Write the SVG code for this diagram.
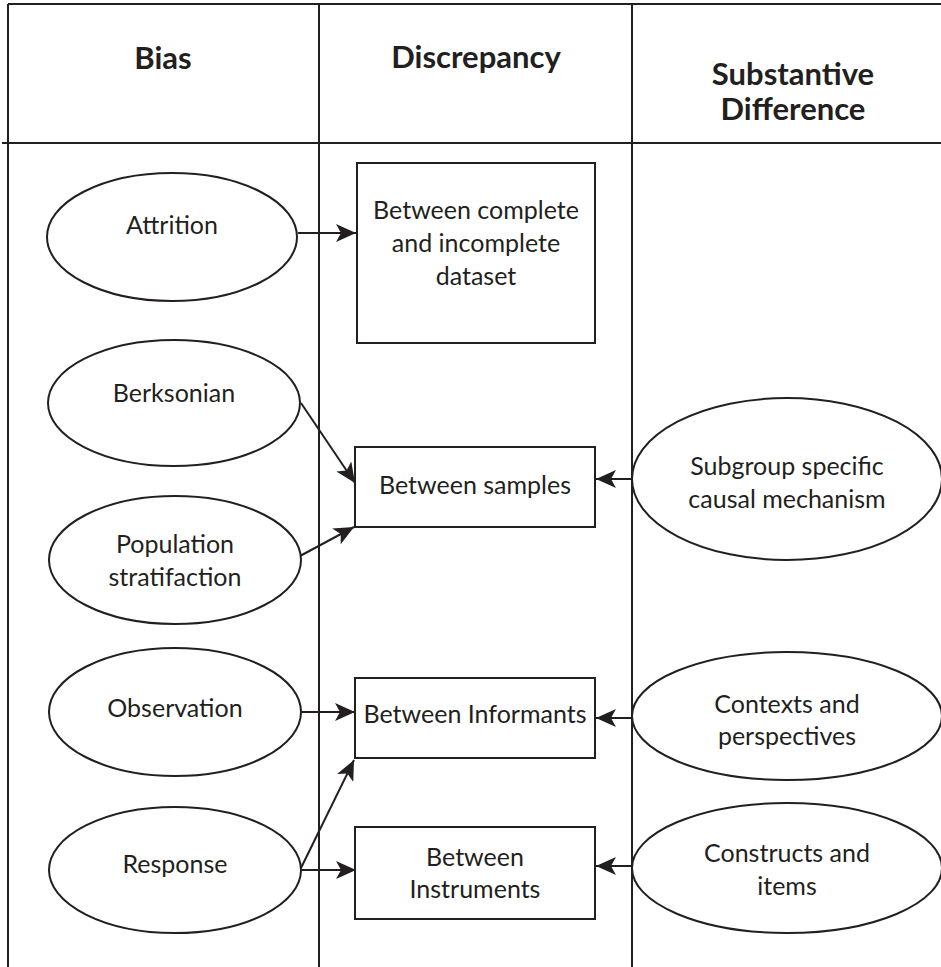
<svg xmlns="http://www.w3.org/2000/svg" width="941" height="967" viewBox="0 0 941 967">
  <style>
    .grid { stroke: #231f20; stroke-width: 2; fill: none; }
    .shape { stroke: #231f20; stroke-width: 2; fill: #ffffff; }
    .edge { stroke: #231f20; stroke-width: 2; fill: none; marker-end: url(#arrow); }
    .head { font-family: Lato, "Liberation Sans", sans-serif; font-weight: bold; font-size: 31px; fill: #231f20; text-anchor: middle; }
    .label { font-family: Lato, "Liberation Sans", sans-serif; font-size: 25px; fill: #231f20; text-anchor: middle; }
  </style>
  <defs>
    <marker id="arrow" markerUnits="userSpaceOnUse" markerWidth="22" markerHeight="18" refX="20" refY="9" orient="auto">
      <path d="M0,0 L20,9 L0,18 L5,9 Z" fill="#231f20"/>
    </marker>
  </defs>

  <rect width="941" height="967" fill="#ffffff"/>

  <!-- table grid -->
  <g id="table">
    <line class="grid" x1="8" y1="4" x2="941" y2="4"/>
    <line class="grid" x1="2" y1="143" x2="941" y2="143"/>
    <line class="grid" x1="8" y1="4" x2="8" y2="967"/>
    <line class="grid" x1="319" y1="4" x2="319" y2="967"/>
    <line class="grid" x1="632" y1="4" x2="632" y2="967"/>
  </g>

  <!-- column headings -->
  <g id="headings">
    <text class="head" x="163" y="69">Bias</text>
    <text class="head" x="476" y="68">Discrepancy</text>
    <text class="head" x="793" y="85">Substantive</text>
    <text class="head" x="793" y="120">Difference</text>
  </g>

  <!-- connectors -->
  <g id="connectors">
    <line class="edge" x1="298" y1="233" x2="356" y2="233"/>
    <line class="edge" x1="301" y1="403" x2="355" y2="483"/>
    <line class="edge" x1="300" y1="556" x2="354" y2="527"/>
    <line class="edge" x1="300" y1="712" x2="355" y2="712"/>
    <line class="edge" x1="300" y1="870" x2="354" y2="760"/>
    <line class="edge" x1="300" y1="870" x2="356" y2="870"/>
    <line class="edge" x1="632" y1="479" x2="596" y2="479"/>
    <line class="edge" x1="632" y1="718" x2="596" y2="718"/>
    <line class="edge" x1="632" y1="866" x2="596" y2="866"/>
  </g>

  <!-- bias column -->
  <g id="attrition">
    <ellipse class="shape" cx="172" cy="237" rx="125" ry="64"/>
    <text class="label" x="172" y="234">Attrition</text>
  </g>
  <g id="berksonian">
    <ellipse class="shape" cx="174" cy="403" rx="126" ry="63"/>
    <text class="label" x="174" y="402">Berksonian</text>
  </g>
  <g id="population">
    <ellipse class="shape" cx="175" cy="560" rx="126" ry="64"/>
    <text class="label" x="175" y="553">Population</text>
    <text class="label" x="175" y="586">stratifaction</text>
  </g>
  <g id="observation">
    <ellipse class="shape" cx="175" cy="712" rx="126" ry="64"/>
    <text class="label" x="175" y="717">Observation</text>
  </g>
  <g id="response">
    <ellipse class="shape" cx="175" cy="870" rx="126" ry="63"/>
    <text class="label" x="175" y="873">Response</text>
  </g>

  <!-- discrepancy column -->
  <g id="datasets">
    <rect class="shape" x="357" y="163" width="238" height="180"/>
    <text class="label" x="476" y="219">Between complete</text>
    <text class="label" x="476" y="252">and incomplete</text>
    <text class="label" x="476" y="285">dataset</text>
  </g>
  <g id="samples">
    <rect class="shape" x="355" y="447" width="240" height="80"/>
    <text class="label" x="475" y="494">Between samples</text>
  </g>
  <g id="informants">
    <rect class="shape" x="355" y="678" width="240" height="80"/>
    <text class="label" x="475" y="723">Between Informants</text>
  </g>
  <g id="instruments">
    <rect class="shape" x="355" y="827" width="240" height="92"/>
    <text class="label" x="475" y="866">Between</text>
    <text class="label" x="475" y="898">Instruments</text>
  </g>

  <!-- substantive difference column -->
  <g id="subgroup">
    <ellipse class="shape" cx="787" cy="479" rx="155" ry="81"/>
    <text class="label" x="787" y="475">Subgroup specific</text>
    <text class="label" x="787" y="508">causal mechanism</text>
  </g>
  <g id="contexts">
    <ellipse class="shape" cx="787" cy="716" rx="155" ry="64"/>
    <text class="label" x="787" y="713">Contexts and</text>
    <text class="label" x="787" y="745">perspectives</text>
  </g>
  <g id="constructs">
    <ellipse class="shape" cx="787" cy="868" rx="155" ry="65"/>
    <text class="label" x="787" y="862">Constructs and</text>
    <text class="label" x="787" y="895">items</text>
  </g>
</svg>
